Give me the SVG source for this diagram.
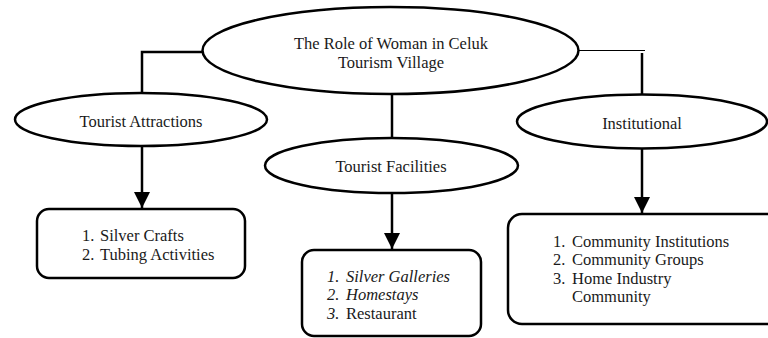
<svg xmlns="http://www.w3.org/2000/svg" width="768" height="338" viewBox="0 0 768 338">
<style>
.shape{fill:#fff;stroke:#000;stroke-width:2.5}
.line{fill:none;stroke:#000;stroke-width:2.5}
.thin{fill:none;stroke:#000;stroke-width:1.2}
text{font-family:"Liberation Serif","Times New Roman",serif;font-size:16.5px;fill:#1a1a1a}
.c{text-anchor:middle}
.i{font-style:italic}
</style>
<defs>
<marker id="arr" markerUnits="userSpaceOnUse" markerWidth="16" markerHeight="16" viewBox="0 0 16 16" refX="16" refY="8" orient="auto">
<path d="M0,0 L16,8 L0,16 Z" fill="#000"/>
</marker>
</defs>
<rect width="768" height="338" fill="#fff"/>
<g id="connectors">
<polyline class="line" points="203,52 142,52 142,93"/>
<line class="line" x1="142" y1="146" x2="142" y2="208" marker-end="url(#arr)"/>
<line class="line" x1="392" y1="94" x2="392" y2="138"/>
<line class="line" x1="392" y1="193" x2="392" y2="249" marker-end="url(#arr)"/>
<line class="thin" x1="579" y1="50.5" x2="645" y2="50.5"/>
<line class="line" x1="642" y1="53" x2="642" y2="95"/>
<line class="line" x1="642" y1="149" x2="642" y2="213" marker-end="url(#arr)"/>
</g>
<g id="main">
<ellipse class="shape" cx="390.5" cy="50.5" rx="188" ry="43.5"/>
<text class="c" x="391" y="49">The Role of Woman in Celuk</text>
<text class="c" x="391" y="68">Tourism Village</text>
</g>
<g id="attractions">
<ellipse class="shape" cx="141" cy="119.5" rx="126" ry="26.5"/>
<text class="c" x="141" y="127">Tourist Attractions</text>
</g>
<g id="facilities">
<ellipse class="shape" cx="391.5" cy="165.5" rx="126.5" ry="27.5"/>
<text class="c" x="391" y="172">Tourist Facilities</text>
</g>
<g id="institutional">
<ellipse class="shape" cx="642" cy="121.5" rx="125" ry="27"/>
<text class="c" x="642" y="129">Institutional</text>
</g>
<g id="attractions-list">
<rect class="shape" x="37" y="209" width="208" height="69" rx="12"/>
<text x="82" y="241">1.</text><text x="100" y="241">Silver Crafts</text>
<text x="82" y="260">2.</text><text x="100" y="260">Tubing Activities</text>
</g>
<g id="facilities-list">
<rect class="shape" x="302" y="250" width="179" height="86" rx="12"/>
<text class="i" x="327" y="282">1.</text><text class="i" x="346" y="282">Silver Galleries</text>
<text class="i" x="327" y="300">2.</text><text class="i" x="346" y="300">Homestays</text>
<text class="i" x="327" y="319">3.</text><text x="346" y="319">Restaurant</text>
</g>
<g id="institutional-list">
<rect class="shape" x="508" y="214" width="275" height="110" rx="14"/>
<text x="553" y="247">1.</text><text x="572" y="247">Community Institutions</text>
<text x="553" y="265">2.</text><text x="572" y="265">Community Groups</text>
<text x="553" y="284">3.</text><text x="572" y="284">Home Industry</text>
<text x="572" y="302">Community</text>
</g>
</svg>
